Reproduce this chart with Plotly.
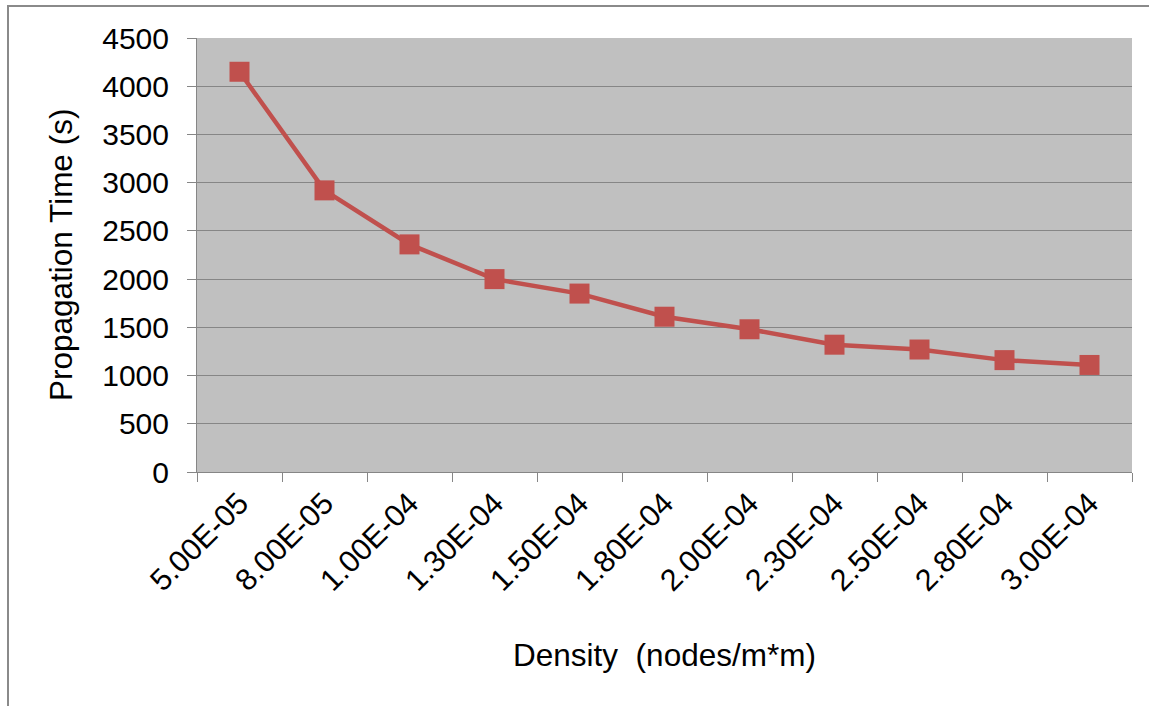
import plotly.graph_objects as go

# Node density categories and the measured propagation time for each
density_labels = ["5.00E-05", "8.00E-05", "1.00E-04", "1.30E-04", "1.50E-04",
                  "1.80E-04", "2.00E-04", "2.30E-04", "2.50E-04", "2.80E-04",
                  "3.00E-04"]
propagation_time = [4150, 2920, 2360, 2000, 1850, 1610, 1480, 1320, 1270, 1160, 1110]

y_tick_values = [0, 500, 1000, 1500, 2000, 2500, 3000, 3500, 4000, 4500]

FONT = "Liberation Sans, Arial, sans-serif"
SERIES_COLOR = "#C0504D"
GRID_COLOR = "#868686"

fig = go.Figure()
fig.add_trace(go.Scatter(
    x=density_labels,
    y=propagation_time,
    mode="lines+markers",
    line=dict(color=SERIES_COLOR, width=4.5),
    marker=dict(symbol="square", size=20, color=SERIES_COLOR,
                line=dict(width=0)),
    showlegend=False,
    hoverinfo="x+y",
))

W, H = 1149, 706
ml, mr, mt, mb = 197, 17, 38, 234
pw, ph = W - ml - mr, H - mt - mb

# Outer chart frame (left and top edges visible, the rest runs off the page)
fig.add_shape(
    type="rect", xref="paper", yref="paper",
    x0=(8 - ml) / pw, x1=(W + 20 - ml) / pw,
    y0=-(H + 20 - (H - mb)) / ph, y1=1 + (mt - 6) / ph,
    line=dict(color="#8a8a8a", width=2), fillcolor="rgba(0,0,0,0)",
    layer="below",
)

# Vertical axis title placed as a rotated annotation left of the tick labels
fig.add_annotation(
    text="Propagation Time (s)",
    xref="paper", yref="paper",
    x=(61 - ml) / pw, y=0.5,
    xanchor="center", yanchor="middle",
    textangle=-90, showarrow=False,
    font=dict(family=FONT, size=31.5, color="black"),
)

fig.update_layout(
    width=W, height=H,
    margin=dict(l=ml, r=mr, t=mt, b=mb, autoexpand=False),
    paper_bgcolor="white",
    plot_bgcolor="#C0C0C0",
    font=dict(family=FONT, color="black", size=30),
    xaxis=dict(
        type="category",
        tickson="boundaries",
        ticks="outside", ticklen=9, tickwidth=1, tickcolor=GRID_COLOR,
        tickangle=-45,
        tickfont=dict(size=30.5),
        showgrid=False,
        showline=True, linecolor=GRID_COLOR, linewidth=1,
        title=dict(text="Density  (nodes/m*m)", font=dict(size=31.5), standoff=48),
        automargin=False,
        range=[-0.5, len(density_labels) - 0.5],
    ),
    yaxis=dict(
        range=[0, 4500],
        tickvals=y_tick_values,
        ticks="outside", ticklen=9, tickwidth=1, tickcolor=GRID_COLOR,
        ticklabelstandoff=12,
        tickfont=dict(size=30),
        showgrid=True, gridcolor=GRID_COLOR, gridwidth=1,
        zeroline=False,
        showline=True, linecolor=GRID_COLOR, linewidth=1,
        automargin=False,
    ),
)

fig.write_html("out.html")
